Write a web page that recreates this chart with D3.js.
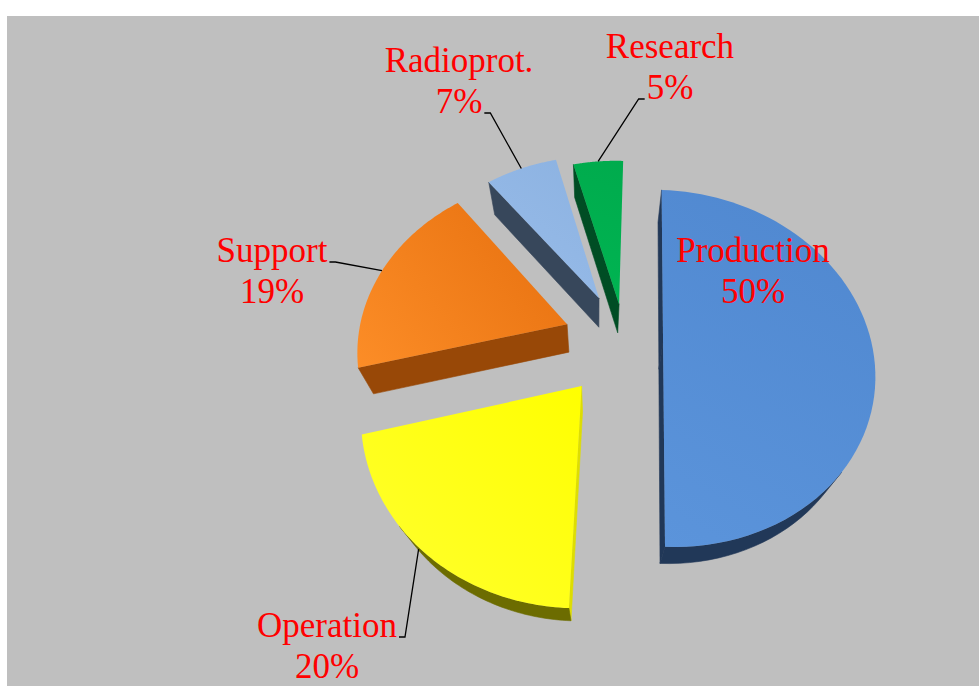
<!DOCTYPE html>
<html>
<head>
<meta charset="utf-8">
<script src="https://cdn.jsdelivr.net/npm/d3@7"></script>
<style>
  body { margin: 0; background: #ffffff; }
  text { font-family: "Times New Roman", "Liberation Serif", serif; }
</style>
</head>
<body>
<div id="chart"></div>
<script>
// data
const categories = ["Production", "Operation", "Support", "Radioprot.", "Research"];
const shares = [50, 20.4, 18.6, 6.5, 4.5];

// styles / layout
const topColors = [["#5b94db", "#4f87cf"], ["#ffff30", "#ffff00"], ["#fc8d27", "#e66f0e"], ["#98bce9", "#8cb2e1"], ["#00b552", "#00ab4d"]];
const sideColors = ["#213858", "#6c6c00", "#984807", "#37475b", "#004d24"];
const litSideColors = ["#4a7cbb", "#dede00", "#d87418", "#7c9cc4", "#009a46"];
const explode = [0.1848, 0.3220, 0.2928, 0.2799, 0.2176];
const labelPos = [[753, 262], [327, 637], [272, 262], [459, 72], [670, 58]];
const leaderFrom = [null, {line: 0, side: 1}, {line: 0, side: 1}, {line: 1, side: 1}, {line: 1, side: -1}];
const anchorFrac = [0.5, 0.56, 0.5, 0.5, 0.5];
const anchorDepth = [0, 0.5, 0, 0, 0];
const lineGap = 41;

const W = 979, H = 686;
const svg = d3.select("#chart").append("svg").attr("width", W).attr("height", H);
svg.append("rect").attr("x", 7).attr("y", 16).attr("width", W - 7).attr("height", H - 16).attr("fill", "#bfbfbf");
const defs = svg.append("defs");

// 3d view: camera looking down on the pie (pie radius = 1)
const cam = {tx: -0.0939, ty: -0.3257, beta: 61.215, psi: -1.212, gamma: 0.892, dist: 3.1105, focal: 682.41, cx: 602.47, cy: 399.67};
const thickness = 0.25;

function makeCamera(c) {
  const rad = Math.PI / 180;
  const b = c.beta * rad, p = c.psi * rad, g = c.gamma * rad;
  const f = [Math.sin(p) * Math.cos(b), Math.cos(p) * Math.cos(b), -Math.sin(b)];
  const r = [Math.cos(p), -Math.sin(p), 0];
  const u = [Math.sin(p) * Math.sin(b), Math.cos(p) * Math.sin(b), Math.cos(b)];
  const R = r.map((v, i) => v * Math.cos(g) + u[i] * Math.sin(g));
  const U = r.map((v, i) => -v * Math.sin(g) + u[i] * Math.cos(g));
  const pos = [c.tx - c.dist * f[0], c.ty - c.dist * f[1], -c.dist * f[2]];
  function project(x, y, z) {
    const a = [x - pos[0], y - pos[1], z - pos[2]];
    const d = a[0] * f[0] + a[1] * f[1] + a[2] * f[2];
    return [c.cx + c.focal * (a[0] * R[0] + a[1] * R[1] + a[2] * R[2]) / d,
            c.cy - c.focal * (a[0] * U[0] + a[1] * U[1] + a[2] * U[2]) / d];
  }
  return {project, pos};
}
const camera = makeCamera(cam);
const P = camera.project;

function facing(n, q) {
  const pos = camera.pos;
  return n[0] * (pos[0] - q[0]) + n[1] * (pos[1] - q[1]) + n[2] * (pos[2] - q[2]) > 0;
}
const line = d3.line();

const pie = d3.pie().sort(null).value(d => d);
const arcs = pie(shares).map((a, i) => {
  const mid = (a.startAngle + a.endAngle) / 2;
  return Object.assign(a, {i, mid, ox: explode[i] * Math.sin(mid), oy: explode[i] * Math.cos(mid)});
});

function rim(a, ang, z) {
  return [a.ox + Math.sin(ang), a.oy + Math.cos(ang), z];
}

// far slices first
const camPos = camera.pos;
const order = arcs.slice().sort((a, b) => {
  const da = Math.hypot(a.ox + 0.5 * Math.sin(a.mid) - camPos[0], a.oy + 0.5 * Math.cos(a.mid) - camPos[1]);
  const db = Math.hypot(b.ox + 0.5 * Math.sin(b.mid) - camPos[0], b.oy + 0.5 * Math.cos(b.mid) - camPos[1]);
  return db - da;
});

const slices = svg.append("g");
order.forEach(a => {
  const g = slices.append("g").attr("class", "slice");
  const n = 72;
  const angs = d3.range(n + 1).map(k => a.startAngle + (a.endAngle - a.startAngle) * k / n);
  const topPts = [P(a.ox, a.oy, 0)].concat(angs.map(t => P(...rim(a, t, 0))));

  // radial faces
  const faces = [
    {ang: a.startAngle, n: [-Math.cos(a.startAngle), Math.sin(a.startAngle), 0]},
    {ang: a.endAngle, n: [Math.cos(a.endAngle), -Math.sin(a.endAngle), 0]}
  ];
  faces.forEach(fc => {
    if (!facing(fc.n, rim(a, fc.ang, -thickness / 2))) return;
    const pts = [P(a.ox, a.oy, 0), P(...rim(a, fc.ang, 0)), P(...rim(a, fc.ang, -thickness)), P(a.ox, a.oy, -thickness)];
    const col = fc.n[0] > 0.8 ? litSideColors[a.i] : sideColors[a.i];
    g.append("path").attr("d", line(pts) + "Z").attr("fill", col).attr("stroke", col).attr("stroke-width", 0.6);
  });

  // outer curved side, only the runs that face the camera
  let run = [];
  const runs = [];
  for (let k = 0; k < n; k++) {
    const m = (angs[k] + angs[k + 1]) / 2;
    if (facing([Math.sin(m), Math.cos(m), 0], rim(a, m, -thickness / 2))) {
      if (!run.length) run.push(angs[k]);
      run.push(angs[k + 1]);
    } else if (run.length) { runs.push(run); run = []; }
  }
  if (run.length) runs.push(run);
  runs.forEach(rn => {
    const pts = rn.map(t => P(...rim(a, t, 0))).concat(rn.slice().reverse().map(t => P(...rim(a, t, -thickness))));
    g.append("path").attr("d", line(pts) + "Z").attr("fill", sideColors[a.i]).attr("stroke", sideColors[a.i]).attr("stroke-width", 0.6);
  });

  // top face with soft light
  const xs = topPts.map(p => p[0]), ys = topPts.map(p => p[1]);
  const grad = defs.append("linearGradient").attr("id", "top" + a.i).attr("gradientUnits", "userSpaceOnUse")
    .attr("x1", d3.min(xs)).attr("y1", d3.max(ys)).attr("x2", d3.max(xs)).attr("y2", d3.min(ys));
  grad.append("stop").attr("offset", "0%").attr("stop-color", topColors[a.i][0]);
  grad.append("stop").attr("offset", "100%").attr("stop-color", topColors[a.i][1]);
  g.append("path").attr("d", line(topPts) + "Z").attr("fill", "url(#top" + a.i + ")");
});

// labels and leader lines
const fmt = d3.format(".0f");
const labels = svg.append("g");
arcs.forEach(a => {
  const [lx, ly] = labelPos[a.i];
  const lines = [categories[a.i], fmt(shares[a.i]) + "%"];
  const texts = lines.map((s, k) => labels.append("text")
    .attr("x", lx).attr("y", ly + k * lineGap)
    .attr("text-anchor", "middle")
    .attr("font-size", "35px")
    .attr("fill", "#ff0000")
    .text(s));
  const lf = leaderFrom[a.i];
  if (!lf) return;
  const w = texts[lf.line].node().getComputedTextLength();
  const by = ly + lf.line * lineGap;
  const sx = lx + lf.side * (w / 2 + 2);
  const ang = a.startAngle + (a.endAngle - a.startAngle) * anchorFrac[a.i];
  const anchor = P(...rim(a, ang, -thickness * anchorDepth[a.i]));
  labels.append("path")
    .attr("d", line([[sx, by], [sx + lf.side * 6, by], anchor]))
    .attr("fill", "none").attr("stroke", "#000000").attr("stroke-width", 1.3);
});
</script>
</body>
</html>
